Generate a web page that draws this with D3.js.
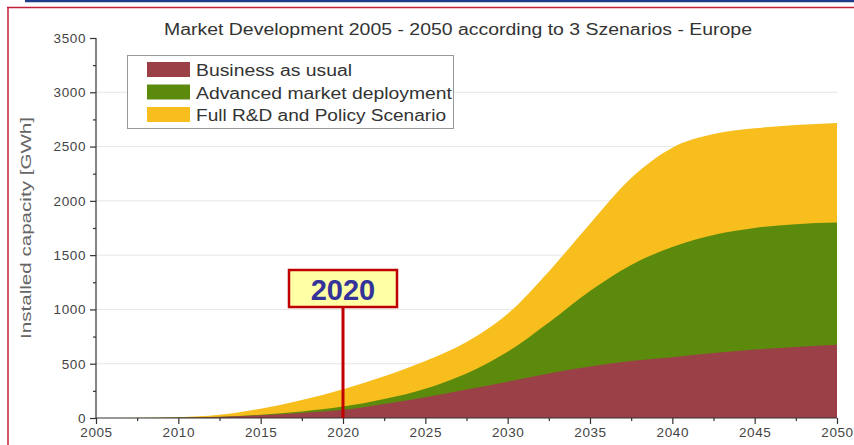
<!DOCTYPE html>
<html><head><meta charset="utf-8">
<script src="https://cdn.jsdelivr.net/npm/d3@7"></script>
<style>html,body{margin:0;padding:0;background:#fff;}svg{display:block;}</style>
</head><body>
<svg id="c" width="854" height="445"></svg>
<script>
const years    = [2005, 2007.5, 2010, 2012.5, 2015, 2017.5, 2020, 2022.5, 2025, 2027.5, 2030, 2032.5, 2035, 2037.5, 2040, 2042.5, 2045, 2047.5, 2050];
const fullRD   = [0, 2, 8, 30, 85, 165, 265, 385, 525, 700, 960, 1350, 1790, 2210, 2490, 2615, 2668, 2698, 2718];
const advanced = [0, 1, 4, 12, 30, 60, 105, 175, 270, 410, 610, 880, 1170, 1410, 1575, 1685, 1750, 1785, 1800];
const bau      = [0, 1, 3, 10, 25, 45, 75, 130, 190, 262, 335, 410, 475, 525, 560, 598, 630, 655, 675];
const seriesNames = ["Business as usual", "Advanced market deployment", "Full R&D and Policy Scenario"];
const seriesColors = ["#9c4048", "#5b8a0c", "#f7be1e"];
const yTicks = [0, 500, 1000, 1500, 2000, 2500, 3000, 3500];
const yMinor = [250, 750, 1250, 1750, 2250, 2750, 3250];
const xTicks = [2005, 2010, 2015, 2020, 2025, 2030, 2035, 2040, 2045, 2050];
const xMinor = [2007.5, 2012.5, 2017.5, 2022.5, 2027.5, 2032.5, 2037.5, 2042.5, 2047.5];
const title = "Market Development 2005 - 2050 according to 3 Szenarios - Europe";
const yTitle = "Installed capacity [GWh]";
const marker = 2020;

const svg = d3.select("#c");
const font = "'Liberation Sans', Arial, sans-serif";

// frame lines
svg.append("line").attr("x1", 25).attr("x2", 854).attr("y1", 1).attr("y2", 1).attr("stroke", "#1f3c8c").attr("stroke-width", 2.5);
svg.append("line").attr("x1", 7).attr("x2", 854).attr("y1", 7.5).attr("y2", 7.5).attr("stroke", "#c0203a").attr("stroke-width", 1.5);
svg.append("line").attr("x1", 8).attr("x2", 8).attr("y1", 7).attr("y2", 445).attr("stroke", "#c0203a").attr("stroke-width", 1.5);

const x = d3.scaleLinear().domain([2005, 2050]).range([96, 837]);
const y = d3.scaleLinear().domain([0, 3500]).range([418, 38]);

// gridlines
svg.append("g").selectAll("line").data(yTicks.filter(d => d > 0 && d < 3500)).join("line")
  .attr("x1", x(2005)).attr("x2", x(2050)).attr("y1", d => y(d)).attr("y2", d => y(d))
  .attr("stroke", "#e6e6e6").attr("stroke-width", 1);

// areas (each scenario from zero, overlapping)
const data = years.map((yr, i) => ({yr, v: [bau[i], advanced[i], fullRD[i]]}));
const area = k => d3.area().x(d => x(d.yr)).y0(y(0)).y1(d => y(d.v[k])).curve(d3.curveMonotoneX);
[2, 1, 0].forEach(k => {
  svg.append("path").datum(data).attr("d", area(k)).attr("fill", seriesColors[k]);
});

// axes
const ax = svg.append("g").attr("font-family", font);
const yAxis = ax.append("g").attr("transform", `translate(${x(2005)},0)`)
  .call(d3.axisLeft(y).tickValues(yTicks).tickSize(6).tickPadding(4).tickFormat(d3.format("d")));
ax.append("g").attr("transform", `translate(${x(2005)},0)`)
  .call(d3.axisLeft(y).tickValues(yMinor).tickSize(3).tickFormat(""))
  .select(".domain").remove();
const xAxis = ax.append("g").attr("transform", `translate(0,${y(0)})`)
  .call(d3.axisBottom(x).tickValues(xTicks).tickSize(6).tickPadding(3).tickFormat(d3.format("d")));
ax.append("g").attr("transform", `translate(0,${y(0)})`)
  .call(d3.axisBottom(x).tickValues(xMinor).tickSize(3).tickFormat(""))
  .select(".domain").remove();
ax.selectAll(".domain, .tick line").attr("stroke", "#333").attr("stroke-width", 1.2);
ax.selectAll(".tick text").attr("fill", "#444").attr("font-size", 13.5).attr("letter-spacing", 0.6);
yAxis.select(".domain").attr("d", `M0,${y(3500)}V${y(0)}`);
xAxis.select(".domain").attr("d", `M${x(2005)},0H${x(2050)}`);

// title
svg.append("text").attr("x", 458).attr("y", 35).attr("text-anchor", "middle")
  .attr("font-family", font).attr("font-size", 16).attr("fill", "#333")
  .attr("textLength", 588).attr("lengthAdjust", "spacingAndGlyphs").text(title);

// y title
svg.append("text").attr("transform", "translate(31,228) rotate(-90)").attr("text-anchor", "middle")
  .attr("font-family", font).attr("font-size", 15).attr("fill", "#666")
  .attr("textLength", 222).attr("lengthAdjust", "spacingAndGlyphs").text(yTitle);

// legend
const lg = svg.append("g");
lg.append("rect").attr("x", 127.5).attr("y", 55.5).attr("width", 326).attr("height", 73)
  .attr("fill", "#fff").attr("stroke", "#999").attr("stroke-width", 1);
const legendLens = [156, 256, 250];
seriesNames.forEach((n, i) => {
  lg.append("rect").attr("x", 147).attr("y", 62 + i * 22.5).attr("width", 43).attr("height", 15).attr("fill", seriesColors[i]);
  lg.append("text").attr("x", 196).attr("y", 76 + i * 22.5).attr("font-family", font).attr("font-size", 16)
    .attr("fill", "#333").attr("textLength", legendLens[i]).attr("lengthAdjust", "spacingAndGlyphs").text(n);
});

// 2020 marker
const mx = x(marker);
svg.append("line").attr("x1", mx).attr("x2", mx).attr("y1", 307).attr("y2", y(0)).attr("stroke", "#c00000").attr("stroke-width", 3);
svg.append("rect").attr("x", mx - 54).attr("y", 270).attr("width", 108).attr("height", 37)
  .attr("fill", "#ffffa6").attr("stroke", "#c00000").attr("stroke-width", 2.5);
svg.append("text").attr("x", mx).attr("y", 300).attr("text-anchor", "middle")
  .attr("font-family", font).attr("font-weight", "bold").attr("font-size", 29).attr("fill", "#333399").text(String(marker));
</script>
</body></html>
